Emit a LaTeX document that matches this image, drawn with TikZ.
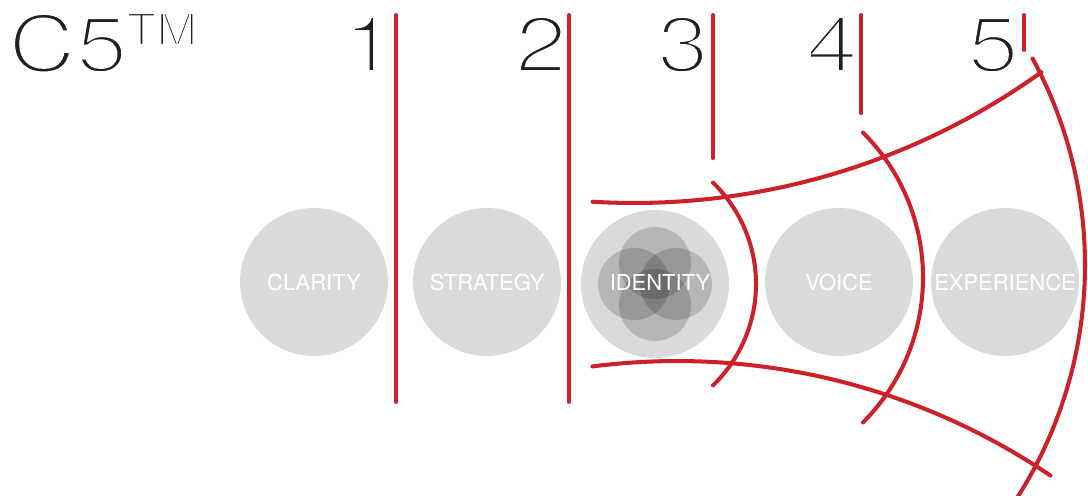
\documentclass[tikz,border=0pt]{standalone}
\usepackage{fontspec}
\setmainfont{TeX Gyre Heros}
\usetikzlibrary{positioning}

\definecolor{c5red}{RGB}{205,33,41}
\definecolor{c5grey}{RGB}{218,218,218}
\definecolor{c5ink}{RGB}{35,31,32}

% thin strokes: white outline drawn over the glyphs
\newcommand\lighttext[2]{\special{pdf:literal 1 G #1 w 2 Tr}#2\special{pdf:literal 0 Tr}}

\tikzset{
  stage/.style={circle, fill=c5grey, minimum size=2.96cm, inner sep=0pt,
                text=white, font=\fontsize{12.5}{14}\selectfont},
  petal/.style={circle, fill=black, fill opacity=0.16, minimum size=1.44cm,
                inner sep=0pt},
  numeral/.style={font=\fontsize{45}{48}\selectfont, text=c5ink, anchor=base,
                  inner sep=0pt},
  cut/.style={draw=c5red, line width=2.3pt, line cap=round}
}

\begin{document}
\begin{tikzpicture}[x=0.02cm, y=0.02cm]
  \useasboundingbox (0,0) rectangle (1088,495);
  \clip (0,0) rectangle (1088,495);

  % title and step numbers
  \node[numeral, anchor=base west] (logo) at (8,423)
    {\lighttext{2.2}{\scalebox{1.18}[1]{C5}}};
  \node[anchor=base west, inner sep=0pt, text=c5ink,
        font=\fontsize{25}{27}\selectfont] (tm) at (126,450)
    {\lighttext{1.4}{\scalebox{1.12}[1]{TM}}};
  \node[numeral] (n1) at (369,423) {\lighttext{2.2}{\scalebox{1.18}[1]{1}}};
  \node[numeral] (n2) at (541,423) {\lighttext{2.2}{\scalebox{1.18}[1]{2}}};
  \node[numeral] (n3) at (683,423) {\lighttext{2.2}{\scalebox{1.18}[1]{3}}};
  \node[numeral] (n4) at (832,423) {\lighttext{2.2}{\scalebox{1.18}[1]{4}}};
  \node[numeral] (n5) at (993,423) {\lighttext{2.2}{\scalebox{1.18}[1]{5}}};

  % the five stages
  \node[stage] (clarity) at (314,213) {CLARITY};
  \node[stage] (strategy) at (487,213) {STRATEGY};
  \node[stage] (identity) at (655,211) {};
  \node[stage] (voice) at (839,213) {VOICE};
  \node[stage] (experience) at (1005,213) {EXPERIENCE};

  \node[petal] (petalN) at ([yshift=0.42cm]identity.center) {};
  \node[petal] (petalS) at ([yshift=-0.42cm]identity.center) {};
  \node[petal] (petalW) at ([xshift=-0.42cm]identity.center) {};
  \node[petal] (petalE) at ([xshift=0.42cm]identity.center) {};
  \node[text=white, font=\fontsize{12.5}{14}\selectfont]
    (identitytext) at ([xshift=0.1cm,yshift=0.04cm]identity.center) {IDENTITY};

  % straight dividers
  \draw[cut] (396,480) -- (396,93);
  \draw[cut] (569,480) -- (569,93);
  \draw[cut] (713,480) -- (713,337);
  \draw[cut] (861,480) -- (861,382);
  \draw[cut] (1024,480) -- (1024,445);

  % widening arcs
  \draw[cut] (634,992) ++(266.6:700) arc[start angle=266.6, end angle=305.6, radius=700];
  \draw[cut] (677,-532) ++(97.3:666) arc[start angle=97.3, end angle=55.9, radius=666];
  \draw[cut] (615,211) ++(46:141) arc[start angle=46, end angle=-46, radius=141];
  \draw[cut] (718,217.5) ++(45:205) arc[start angle=45, end angle=-45, radius=205];
  \draw[cut] (652,230) ++(28.5:433) arc[start angle=28.5, end angle=-33, radius=433];
\end{tikzpicture}
\end{document}
